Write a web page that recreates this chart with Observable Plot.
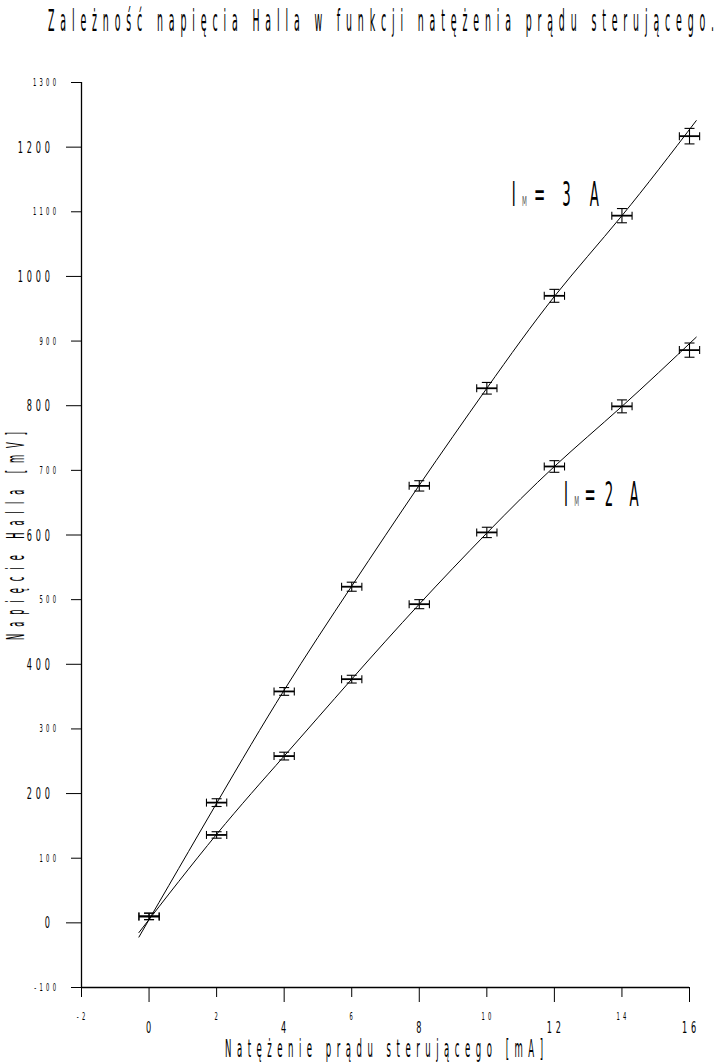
<!DOCTYPE html>
<html><head><meta charset="utf-8">
<script src="https://cdn.jsdelivr.net/npm/d3@7"></script>
<script src="https://cdn.jsdelivr.net/npm/@observablehq/plot@0.6"></script>
<style>body{margin:0;background:#fff} svg{display:block;background:#fff}</style>
</head><body><div id="chart"></div>
<script>
const title = "Zależność napięcia Halla w funkcji natężenia prądu sterującego.";
const xLabel = "Natężenie prądu sterującego [mA]";
const yLabel = "Napięcie Halla [mV]";

const current = [0, 2, 4, 6, 8, 10, 12, 14, 16];
const hall3A = [10, 186, 358, 520, 676, 827, 970, 1094, 1217];
const hall2A = [10, 136, 258, 377, 493, 604, 706, 799, 886];
const errCurrent = 0.3;
const errHall3A = [5, 6, 6, 7, 8, 9, 10, 11, 12];
const errHall2A = [5, 5, 6, 6, 7, 8, 9, 10, 11];

const fitX = [-0.3, 2, 4, 6, 8, 10, 12, 14, 16.2];
const fit3A = [-22, 185, 360, 521, 677, 827, 969, 1094, 1241];
const fit2A = [-15, 137, 258, 377, 493, 603, 706, 799, 906];

const seriesNames = ["3", "2"];
const seriesLabelX = [10.75, 12.3];
const seriesLabelY = [1108, 644];

const xMajor = [0, 4, 8, 12, 16];
const xMinor = [-2, 2, 6, 10, 14];
const yMajor = [0, 200, 400, 600, 800, 1000, 1200];
const yMinor = [-100, 100, 300, 500, 700, 900, 1100, 1300];

const points = [
  ...current.map((x, i) => ({x, y: hall3A[i], e: errHall3A[i]})),
  ...current.map((x, i) => ({x, y: hall2A[i], e: errHall2A[i]}))
];
const fits = [
  ...fitX.map((x, i) => ({x, y: fit3A[i], s: "3A"})),
  ...fitX.map((x, i) => ({x, y: fit2A[i], s: "2A"}))
];

const vCap = {draw(ctx, size) { const r = Math.sqrt(size / Math.PI); ctx.moveTo(0, -r); ctx.lineTo(0, r); }};
const hCap = {draw(ctx, size) { const r = Math.sqrt(size / Math.PI); ctx.moveTo(-r, 0); ctx.lineTo(r, 0); }};

const FONT = "'DejaVu Sans Condensed', 'DejaVu Sans', sans-serif";
const blank = () => "";

const plot = Plot.plot({
  width: 720,
  height: 1064,
  marginLeft: 81,
  marginRight: 31,
  marginTop: 82,
  marginBottom: 77,
  style: {fontFamily: FONT, color: "#000", background: "#fff"},
  x: {domain: [-2, 16]},
  y: {domain: [-100, 1300]},
  marks: [
    Plot.axisY(yMajor, {tickSize: 15, tickFormat: blank, label: null}),
    Plot.axisY(yMinor, {tickSize: 10, tickFormat: blank, label: null}),
    Plot.axisX(xMajor, {tickSize: 15, tickFormat: blank, label: null}),
    Plot.axisX(xMinor, {tickSize: 10, tickFormat: blank, label: null}),
    Plot.ruleX([-2], {stroke: "#000", strokeWidth: 1.3}),
    Plot.ruleY([-100], {stroke: "#000", strokeWidth: 1.3}),
    Plot.line(fits, {x: "x", y: "y", z: "s", curve: "natural", stroke: "#000", strokeWidth: 1}),
    Plot.link(points, {x1: d => d.x - errCurrent, x2: d => d.x + errCurrent, y1: "y", y2: "y", stroke: "#000", strokeWidth: 1.8}),
    Plot.link(points, {x1: "x", x2: "x", y1: d => d.y - d.e, y2: d => d.y + d.e, stroke: "#000", strokeWidth: 1.1}),
    Plot.dot(points, {x: d => d.x - errCurrent, y: "y", symbol: vCap, r: 4, stroke: "#000", strokeWidth: 1.1}),
    Plot.dot(points, {x: d => d.x + errCurrent, y: "y", symbol: vCap, r: 4, stroke: "#000", strokeWidth: 1.1}),
    Plot.dot(points, {x: "x", y: d => d.y - d.e, symbol: hCap, r: 5, stroke: "#000", strokeWidth: 1.1}),
    Plot.dot(points, {x: "x", y: d => d.y + d.e, symbol: hCap, r: 5, stroke: "#000", strokeWidth: 1.1})
  ]
});
document.getElementById("chart").appendChild(plot);

const svg = d3.select(plot);
// drop the empty axis label texts
svg.selectAll("text").filter(function () { return this.textContent === ""; }).remove();

const xs = plot.scale("x"), ys = plot.scale("y");
const SX = 0.55;

function narrowText(parent, str, o) {
  const sx = o.sx || SX;
  const ls = o.ls || 0;
  let px = o.x;
  if (o.anchor === "end") px += ls;          // trailing letter-spacing
  if (o.anchor === "middle") px += ls / 2;
  return parent.append("text")
    .attr("font-family", FONT)
    .attr("font-size", o.size)
    .attr("fill", o.fill || "#000")
    .attr("text-anchor", o.anchor || "start")
    .attr("transform", `translate(${px},${o.y}) rotate(${o.rotate || 0}) scale(${sx},1)`)
    .style("letter-spacing", `${ls / sx}px`)
    .text(str);
}

function spacedText(parent, str, o) {
  return parent.append("text")
    .attr("font-family", FONT)
    .attr("font-size", o.size)
    .attr("fill", "#000")
    .attr("text-anchor", "start")
    .attr("transform", `translate(${o.x},${o.y}) rotate(${o.rotate || 0}) scale(${o.sx},1)`)
    .attr("textLength", o.length / o.sx)
    .attr("lengthAdjust", "spacing")
    .text(str);
}

const x0 = xs.apply(-2), yBase = ys.apply(-100);
const ticks = svg.append("g").attr("aria-label", "tick labels");
yMajor.forEach(v => narrowText(ticks, String(v), {x: x0 - 31, y: ys.apply(v) + 6, size: 16.5, ls: 3.8, anchor: "end"}));
yMinor.forEach(v => narrowText(ticks, String(v), {x: x0 - 25, y: ys.apply(v) + 4, size: 10.5, ls: 3.3, anchor: "end"}));
xMajor.forEach(v => narrowText(ticks, String(v), {x: xs.apply(v), y: yBase + 46, size: 16.5, ls: 3.8, anchor: "middle"}));
xMinor.forEach(v => narrowText(ticks, String(v), {x: xs.apply(v), y: yBase + 33, size: 10.5, ls: 3.3, anchor: "middle"}));

// title and axis titles
spacedText(svg, title, {x: 48, y: 31, size: 30, sx: 0.35, length: 666});
spacedText(svg, xLabel, {x: 225, y: 1057, size: 25, sx: 0.38, length: 318});
spacedText(svg, yLabel, {x: 24, y: 640, rotate: -90, size: 25, sx: 0.37, length: 208});

// series labels
seriesNames.forEach((n, i) => {
  const px = xs.apply(seriesLabelX[i]), py = ys.apply(seriesLabelY[i]);
  const g = svg.append("g").attr("transform", `translate(${px},${py}) scale(0.45,1)`)
    .attr("font-family", FONT).attr("text-anchor", "start");
  const t = g.append("text").attr("font-size", 33).attr("fill", "#000");
  t.append("tspan").text("I");
  t.append("tspan").attr("font-size", 14).attr("fill", "#555").attr("dx", 14).text("M");
  t.append("tspan").attr("dx", i === 0 ? 16 : 12).text("=");
  t.append("tspan").attr("dx", i === 0 ? 38 : 20).text(n);
  t.append("tspan").attr("dx", i === 0 ? 42 : 36).text("A");
});
</script>
</body></html>
